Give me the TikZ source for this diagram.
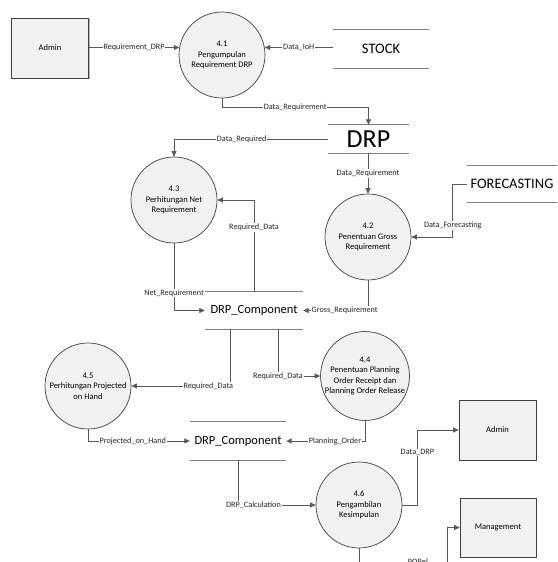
\documentclass[tikz,border=0pt]{standalone}
\usepackage{fontspec}
\setmainfont{Carlito}
\usetikzlibrary{arrows.meta,shadows}

\definecolor{linegray}{HTML}{595959}
\definecolor{edgegray}{HTML}{404040}
\definecolor{fillgray}{HTML}{F1F1F1}
\definecolor{storegray}{HTML}{808080}

\begin{document}
\begin{tikzpicture}[x=1pt,y=-1pt,
  proc/.style={circle, draw=edgegray, line width=0.7pt, fill=fillgray,
    minimum size=86pt, inner sep=0pt, align=center,
    font=\fontsize{8.5}{10.5}\selectfont},
  ext/.style={draw=edgegray, line width=0.7pt, fill=fillgray, inner sep=0pt,
    font=\fontsize{8.5}{10}\selectfont,
    drop shadow={shadow xshift=1.2pt, shadow yshift=-1.2pt, opacity=0.6, fill=gray}},
  store/.style={inner sep=0pt, minimum height=38pt},
  storeline/.style={draw=storegray, line width=1.2pt},
  flow/.style={draw=linegray, line width=0.8pt, -{Triangle[length=5.5pt,width=5pt]}},
  lbl/.style={fill=white, inner sep=0.8pt, font=\fontsize{8.2}{9}\selectfont, text=black!85}
]
\useasboundingbox (0,0) rectangle (557,562);
\clip (0,0) rectangle (557,562);

% external entities
\node[ext, minimum width=77pt, minimum height=60pt] (admin1) at (50,48) {Admin};
\node[ext, minimum width=77pt, minimum height=60pt] (admin2) at (497.5,430) {Admin};
\node[ext, minimum width=76pt, minimum height=59pt] (mgmt) at (498,527.5) {Management};

% processes
\node[proc] (p41) at (222,55) {4.1\\Pengumpulan\\Requirement DRP};
\node[proc] (p43) at (174,200) {4.3\\Perhitungan Net\\Requirement};
\node[proc] (p42) at (368,237) {4.2\\Penentuan Gross\\Requirement};
\node[proc] (p45) at (88,386) {4.5\\Perhitungan Projected\\on Hand};
\node[proc] (p44) at (365,376) {4.4\\Penentuan Planning\\Order Receipt dan\\Planning Order Release};
\node[proc] (p46) at (359,505) {4.6\\Pengambilan\\Kesimpulan};

% data stores
\node[store, minimum width=96pt, font=\fontsize{14.5}{16}\selectfont] (stock) at (381,49) {STOCK};
\node[store, minimum width=81pt, minimum height=28pt, font=\fontsize{26}{28}\selectfont] (drp) at (368.5,139) {DRP};
\node[store, minimum width=90pt, minimum height=36pt, font=\fontsize{14.5}{16}\selectfont] (fc) at (512,184) {FORECASTING};
\node[store, minimum width=98pt, minimum height=37pt, font=\fontsize{12.5}{14}\selectfont] (dc1) at (254,310.5) {DRP\_Component};
\node[store, minimum width=96pt, minimum height=38pt, font=\fontsize{12.5}{14}\selectfont] (dc2) at (238,441) {DRP\_Component};
\foreach \s in {stock,drp,fc,dc1,dc2}
  \draw[storeline] (\s.north west) -- (\s.north east) (\s.south west) -- (\s.south east);

% data flows
\draw[flow] (admin1.east |- p41.170) -- node[lbl]{Requirement\_DRP} (p41.170);
\draw[flow] (stock.west |- p41.10) -- node[lbl]{Data\_IoH} (p41.10);
\draw[flow] (p41.south) -- ++(0,9) -| node[lbl,pos=0.25]{Data\_Requirement} (drp.north);
\draw[flow] (drp.west) -| node[lbl,pos=0.28]{Data\_Required} (p43.north);
\draw[flow] (p42.north |- drp.south) -- node[lbl]{Data\_Requirement} (p42.north);
\draw[flow] (fc.west) -- ++(-14,0) |- node[lbl,pos=0.39]{Data\_Forecasting} (p42.east);
\draw[flow] (dc1.north) |- node[lbl,pos=0.35]{Required\_Data} (p43.east);
\draw[flow] (p43.south) |- node[lbl,pos=0.37]{Net\_Requirement} (dc1.west);
\draw[flow] (p42.south) |- node[lbl,pos=0.68]{Gross\_Requirement} (dc1.east);
\draw[flow] ([xshift=-24pt]dc1.south) |- node[lbl,pos=0.61]{Required\_Data} (p45.east);
\draw[flow] ([xshift=24pt]dc1.south) |- node[lbl,pos=0.5]{Required\_Data} (p44.west);
\draw[flow] (p44.south) |- node[lbl,pos=0.69]{Planning\_Order} (dc2.east);
\draw[flow] (p45.south) |- node[lbl,pos=0.72]{Projected\_on\_Hand} (dc2.west);
\draw[flow] (dc2.south) |- node[lbl,pos=0.6]{DRP\_Calculation} (p46.west);
\draw[flow] (p46.east) -- ++(15,0) |- node[lbl,pos=0.35]{Data\_DRP} (admin2.west);
\coordinate (bend) at (447,566);
\draw[flow] (p46.south) |- node[lbl,pos=0.835,yshift=4pt]{PORel} (bend) |- (mgmt.west);
\end{tikzpicture}
\end{document}
